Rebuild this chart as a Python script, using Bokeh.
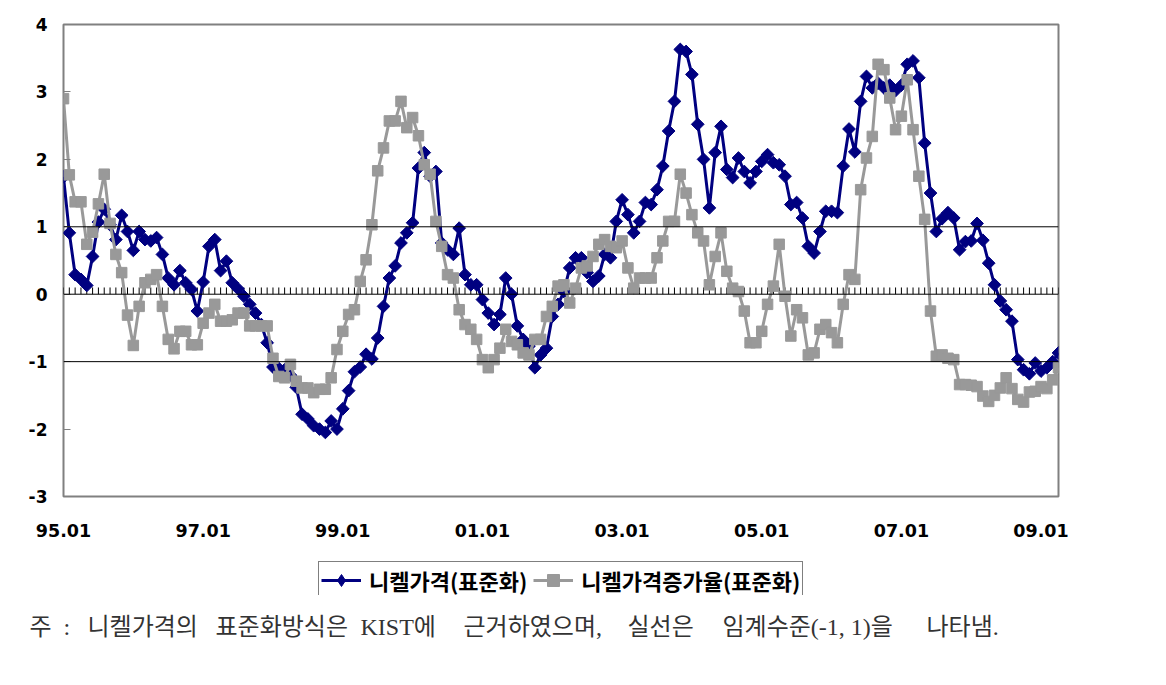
import numpy as np
from bokeh.plotting import figure
from bokeh.models import Range1d, FixedTicker, Span, Legend, LegendItem
from bokeh.layouts import column
from bokeh.core.properties import value
from bokeh.embed import file_html
from bokeh.resources import INLINE

# ---------------- data (monthly, 1995.01 - 2009.04) ----------------
tick_labels = ["95.01", "97.01", "99.01", "01.01", "03.01", "05.01", "07.01", "09.01"]

nickel_price = [
    1.74, 0.91, 0.29, 0.22, 0.13, 0.56, 1.07, 1.26, 1.03, 0.81, 1.17, 0.93,
    0.65, 0.93, 0.81, 0.79, 0.84, 0.59, 0.24, 0.14, 0.35, 0.17, 0.07, -0.25,
    0.18, 0.71, 0.81, 0.35, 0.49, 0.17, 0.08, -0.03, -0.15, -0.28, -0.45, -0.72,
    -1.08, -1.10, -1.12, -1.20, -1.38, -1.78, -1.85, -1.95, -2.00, -2.05, -1.88, -2.00,
    -1.70, -1.43, -1.15, -1.08, -0.89, -0.96, -0.65, -0.18, 0.24, 0.42, 0.76, 0.91,
    1.06, 1.87, 2.10, 1.75, 1.82, 0.76, 0.66, 0.59, 0.98, 0.29, 0.14, 0.14,
    -0.08, -0.28, -0.45, -0.30, 0.24, 0.00, -0.47, -0.67, -0.77, -1.09, -0.90, -0.80,
    -0.33, -0.15, 0.04, 0.39, 0.54, 0.54, 0.32, 0.19, 0.27, 0.59, 0.54, 1.08,
    1.40, 1.18, 0.91, 1.08, 1.36, 1.33, 1.55, 1.90, 2.42, 2.86, 3.63, 3.60,
    3.26, 2.52, 2.00, 1.28, 2.10, 2.49, 1.85, 1.73, 2.02, 1.82, 1.65, 1.82,
    1.97, 2.07, 1.95, 1.92, 1.75, 1.33, 1.36, 1.13, 0.71, 0.61, 0.93, 1.23,
    1.23, 1.21, 1.90, 2.45, 2.11, 2.86, 3.23, 3.06, 3.13, 3.06, 3.10, 3.02,
    3.10, 3.41, 3.46, 3.21, 2.24, 1.50, 0.93, 1.12, 1.21, 1.13, 0.66, 0.78,
    0.79, 1.05, 0.80, 0.46, 0.14, -0.10, -0.23, -0.40, -0.97, -1.12, -1.18, -1.02,
    -1.14, -1.09, -1.00, -0.87,
]

nickel_growth = [
    2.90, 1.77, 1.37, 1.37, 0.74, 0.92, 1.34, 1.78, 1.05, 0.59, 0.32, -0.31,
    -0.76, -0.18, 0.17, 0.22, 0.29, -0.18, -0.67, -0.81, -0.55, -0.55, -0.75, -0.75,
    -0.43, -0.28, -0.15, -0.40, -0.40, -0.38, -0.28, -0.28, -0.47, -0.47, -0.47, -0.47,
    -0.95, -1.22, -1.24, -1.04, -1.29, -1.39, -1.39, -1.46, -1.41, -1.41, -1.24, -0.82,
    -0.55, -0.30, -0.23, 0.19, 0.51, 1.03, 1.83, 2.17, 2.57, 2.57, 2.86, 2.47,
    2.62, 2.35, 1.92, 1.78, 1.08, 0.71, 0.29, 0.24, -0.23, -0.45, -0.52, -0.67,
    -0.97, -1.09, -0.97, -0.80, -0.52, -0.70, -0.75, -0.87, -0.90, -0.67, -0.67, -0.33,
    -0.18, 0.12, 0.14, -0.13, 0.09, 0.39, 0.42, 0.56, 0.74, 0.81, 0.71, 0.69,
    0.79, 0.39, 0.09, 0.24, 0.24, 0.24, 0.54, 0.79, 1.08, 1.08, 1.78, 1.50,
    1.18, 0.91, 0.79, 0.14, 0.56, 0.91, 0.34, 0.09, 0.04, -0.25, -0.72, -0.72,
    -0.55, -0.15, 0.12, 0.74, -0.03, -0.62, -0.23, -0.35, -0.90, -0.87, -0.52, -0.45,
    -0.57, -0.72, -0.15, 0.29, 0.22, 1.55, 2.02, 2.34, 3.41, 3.33, 2.91, 2.44,
    2.64, 3.18, 2.44, 1.75, 1.11, -0.25, -0.92, -0.90, -0.95, -0.97, -1.34, -1.34,
    -1.35, -1.37, -1.51, -1.59, -1.50, -1.39, -1.24, -1.40, -1.56, -1.60, -1.45, -1.44,
    -1.37, -1.40, -1.27, -1.09,
]

series_names = ["니켈가격(표준화)", "니켈가격증가율(표준화)"]
# footnote, split into the words as they are spaced (justified) in the source
note_words = ["주", ":", "니켈가격의", "표준화방식은", "KIST에", "근거하였으며,",
              "실선은", "임계수준(-1, 1)을", "나타냄."]
note_word_x = [29, 63, 87, 215, 360, 463, 627, 722, 926]

# ---------------- figure ----------------
n = len(nickel_price)
months = list(range(n))
tick_pos = [24 * k for k in range(len(tick_labels))]

NAVY = "#000080"
GRAY = "#999999"
FRAME = "#808080"

p = figure(width=1166, height=555, output_backend="svg", toolbar_location=None,
           x_range=Range1d(0, n - 1), y_range=Range1d(-3, 4),
           min_border_left=63, min_border_right=108, min_border_top=24,
           min_border_bottom=59)
p.xgrid.visible = False
p.ygrid.visible = False
p.outline_line_color = FRAME
p.outline_line_width = 2
p.background_fill_color = "white"
p.border_fill_color = "white"

# axes
p.yaxis.ticker = FixedTicker(ticks=list(range(-3, 5)))
p.yaxis.major_label_overrides = {v: str(v) for v in range(-3, 5)}
p.yaxis.axis_line_color = None
p.yaxis.major_tick_in = 7
p.yaxis.major_tick_out = 0
p.yaxis.major_tick_line_color = FRAME
p.yaxis.major_tick_line_width = 1
p.yaxis.minor_tick_line_color = None
p.yaxis.major_label_standoff = 16
p.yaxis.major_label_text_font = "DejaVu Sans"
p.yaxis.major_label_text_font_style = "bold"
p.yaxis.major_label_text_font_size = "17px"
p.yaxis.major_label_text_color = "black"

p.xaxis.ticker = FixedTicker(ticks=tick_pos)
p.xaxis.major_label_overrides = {pos: lab for pos, lab in zip(tick_pos, tick_labels)}
p.xaxis.axis_line_color = None
p.xaxis.major_tick_line_color = None
p.xaxis.minor_tick_line_color = None
p.xaxis.major_label_standoff = 21
p.xaxis.major_label_text_font = "DejaVu Sans"
p.xaxis.major_label_text_font_style = "bold"
p.xaxis.major_label_text_font_size = "17.5px"
p.xaxis.major_label_text_color = "black"

# reference lines
for lvl in (-1, 0, 1):
    p.add_layout(Span(location=lvl, dimension="width", line_color="black", line_width=1))

# category tick marks on the zero line
p.segment(x0=months, y0=[0] * n, x1=months, y1=[0.1] * n, line_color="black", line_width=1)

# series
p.line(months, nickel_price, line_color=NAVY, line_width=3)
p.scatter(months, nickel_price, marker="square", angle=np.pi / 4, size=9,
          fill_color=NAVY, line_color=NAVY)
p.line(months, nickel_growth, line_color=GRAY, line_width=3)
p.scatter(months, nickel_growth, marker="square", size=10.5,
          fill_color=GRAY, line_color=GRAY)

# ---------------- legend strip ----------------
pl = figure(width=1166, height=40, output_backend="svg", toolbar_location=None,
            x_range=Range1d(0, 1166), y_range=Range1d(0, 40),
            x_axis_type=None, y_axis_type=None,
            min_border_left=0, min_border_right=0, min_border_top=0, min_border_bottom=0,
            outline_line_color=None)
pl.xgrid.visible = False
pl.ygrid.visible = False
# legend-only renderers (no visible data points)
g1 = pl.line(x=[np.nan], y=[np.nan], line_color=NAVY, line_width=3)
s1 = pl.scatter(x=[np.nan], y=[np.nan], marker="diamond",
                fill_color=NAVY, line_color=NAVY)
g2 = pl.line(x=[np.nan], y=[np.nan], line_color=GRAY, line_width=3)
s2 = pl.scatter(x=[np.nan], y=[np.nan], marker="square", fill_color=GRAY, line_color=GRAY)

legend = Legend(items=[LegendItem(label=series_names[0], renderers=[g1, s1]),
                       LegendItem(label=series_names[1], renderers=[g2, s2])],
                orientation="horizontal", location=(318, -4), margin=0,
                padding=2, spacing=6, glyph_width=40, glyph_height=30,
                label_standoff=8,
                label_text_font="Noto Sans CJK KR",
                label_text_font_style="bold", label_text_font_size="22px",
                label_text_color="black",
                border_line_color="black", border_line_width=1,
                background_fill_color="white", background_fill_alpha=1.0)
pl.add_layout(legend, "center")

# ---------------- footnote ----------------
pn = figure(width=1166, height=90, output_backend="svg", toolbar_location=None,
            x_range=Range1d(0, 1166), y_range=Range1d(90, 0),
            x_axis_type=None, y_axis_type=None,
            min_border_left=0, min_border_right=0, min_border_top=0, min_border_bottom=0,
            outline_line_color=None)
pn.xgrid.visible = False
pn.ygrid.visible = False
pn.text(x=note_word_x, y=[31] * len(note_words), text=note_words,
        text_font=value("Liberation Serif, Noto Sans CJK KR"),
        text_font_size="24px", text_baseline="middle", text_align="left",
        text_color="#333333")

layout = column(p, column(pl, pn, spacing=0), spacing=0)
open("out.html", "w").write(file_html(layout, INLINE))
